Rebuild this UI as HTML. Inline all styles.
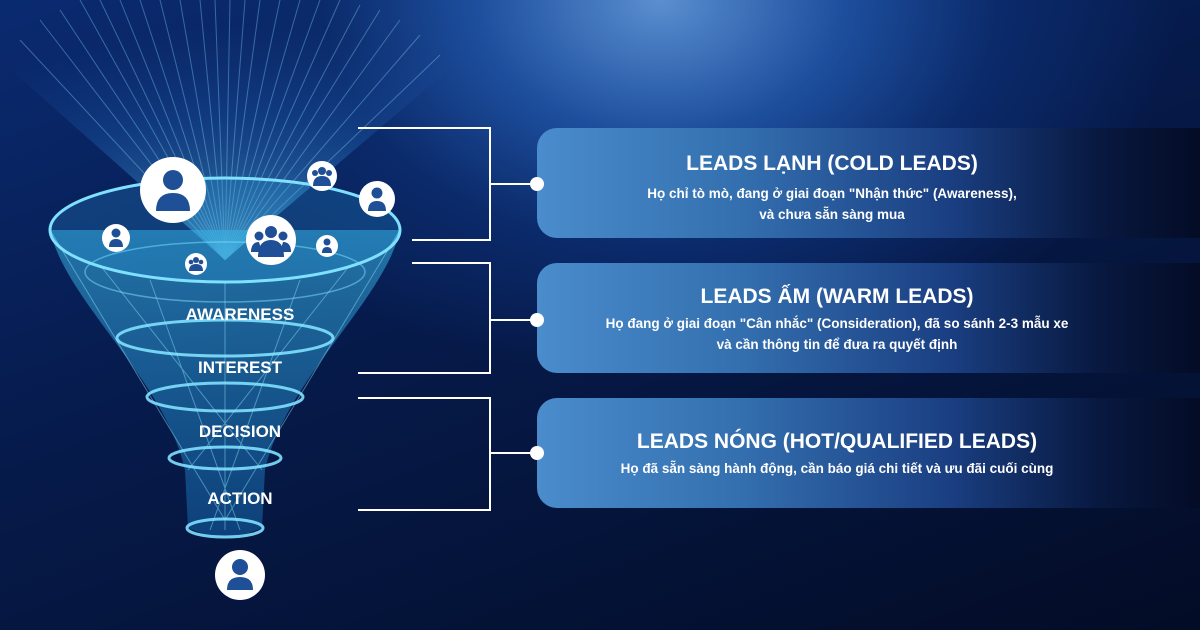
<!DOCTYPE html>
<html><head><meta charset="utf-8"><style>
html,body{margin:0;padding:0}
body{width:1200px;height:630px;overflow:hidden;position:relative;font-family:"Liberation Sans",sans-serif;
background:radial-gradient(ellipse 520px 380px at 660px 0px,#5a8fd0 0%,#1d4f9e 35%,#0b2a6a 65%,rgba(6,20,60,0) 100%),linear-gradient(160deg,#0a2a70 0%,#061a4a 45%,#030c26 100%);}
.card{position:absolute;left:537px;width:663px;height:110px;border-radius:20px 0 0 20px;
background:linear-gradient(90deg,#4a8ccc 0%,#3470b0 30%,#1a3f82 62%,#08183f 85%,#040c26 100%);color:#fff;text-align:center;}
.card .t{position:absolute;left:0;width:400px;text-align:center;font-weight:bold;font-size:21px;}
.card .d{position:absolute;left:0;width:400px;text-align:center;font-weight:bold;font-size:13.5px;line-height:21px;}
.lbl{position:absolute;color:#fff;font-weight:bold;font-size:17px;width:200px;text-align:center;left:140px;z-index:3}
svg.top{position:absolute;left:0;top:0;z-index:2}
</style></head><body>
<svg width="1200" height="630" style="position:absolute;left:0;top:0">
<defs>
<linearGradient id="fg" x1="0" y1="0" x2="0" y2="1">
<stop offset="0" stop-color="#3ec3f0" stop-opacity="0.5"/>
<stop offset="1" stop-color="#1a7fd0" stop-opacity="0.4"/>
</linearGradient>
<radialGradient id="ray" cx="0.5" cy="1" r="0.9">
<stop offset="0" stop-color="#6fe0ff" stop-opacity="0.8"/>
<stop offset="0.6" stop-color="#2a7fd8" stop-opacity="0.35"/>
<stop offset="1" stop-color="#2060c0" stop-opacity="0"/>
</radialGradient>
</defs>
<path d="M225 260 L0 60 L0 0 L460 0 L460 60 Z" fill="url(#ray)" opacity="0.7"/>
<g stroke="#8fe4ff" stroke-width="1" opacity="0.35">
<path d="M225 260 L20 40 M225 260 L40 20 M225 260 L60 10 M225 260 L80 0 M225 260 L100 0 M225 260 L120 0 M225 260 L140 0 M225 260 L160 0 M225 260 L180 0 M225 260 L200 0 M225 260 L215 0 M225 260 L230 0 M225 260 L245 0 M225 260 L260 0 M225 260 L280 0 M225 260 L300 0 M225 260 L320 0 M225 260 L340 0 M225 260 L360 5 M225 260 L380 10 M225 260 L400 20 M225 260 L420 35 M225 260 L440 55"/>
</g>
<path d="M50 230 C 65 300,165 380,185 470 L188 528 Q225 545 262 528 L265 470 C 285 380,385 300,400 230 Z" fill="url(#fg)"/>
<ellipse cx="225" cy="230" rx="175" ry="52" fill="rgba(40,150,220,0.25)" stroke="#7fe0ff" stroke-width="3"/>
<ellipse cx="225" cy="272" rx="140" ry="30" fill="none" stroke="#7fe0ff" stroke-width="1.5" opacity="0.5"/>
<g fill="none" stroke="#7fe0ff" stroke-width="3" opacity="0.9">
<ellipse cx="225" cy="338" rx="108" ry="18"/>
<ellipse cx="225" cy="397" rx="78" ry="14"/>
<ellipse cx="225" cy="458" rx="56" ry="11"/>
<ellipse cx="225" cy="528" rx="38" ry="9"/>
</g>
<g stroke="#8fe8ff" stroke-width="1" opacity="0.45">
<path d="M50 230 L225 520 M400 230 L225 520 M100 265 L262 470 M350 265 L188 470 M150 280 L240 530 M300 280 L210 530 M225 282 L225 530"/>
</g>
</svg>
<svg class="top" width="1200" height="630">
<g stroke="#fff" stroke-width="2" fill="none">
<path d="M358 128 H490 V240 H412 M490 184 H537"/>
<path d="M412 263 H490 V373 H358 M490 320 H537"/>
<path d="M358 398 H490 V510 H358 M490 453 H537"/>
</g>
<g fill="#fff"><circle cx="537" cy="184" r="7"/><circle cx="537" cy="320" r="7"/><circle cx="537" cy="453" r="7"/></g>
<circle cx="173" cy="190" r="33" fill="#fff"/><circle cx="173" cy="180" r="10" fill="#1f4f96"/><path d="M156 211 Q156 193 173 193 Q190 193 190 211 Z" fill="#1f4f96"/>
<circle cx="377" cy="199" r="18" fill="#fff"/><circle cx="377" cy="193" r="5.5" fill="#1f4f96"/><path d="M368 211 Q368 201 377 201 Q386 201 386 211 Z" fill="#1f4f96"/>
<circle cx="116" cy="238" r="14" fill="#fff"/><circle cx="116" cy="233" r="4.5" fill="#1f4f96"/><path d="M109 247 Q109 239 116 239 Q123 239 123 247 Z" fill="#1f4f96"/>
<circle cx="327" cy="246" r="11" fill="#fff"/><circle cx="327" cy="242" r="3.5" fill="#1f4f96"/><path d="M322 253 Q322 247 327 247 Q332 247 332 253 Z" fill="#1f4f96"/>
<circle cx="240" cy="575" r="25" fill="#fff"/><circle cx="240" cy="567" r="8" fill="#1f4f96"/><path d="M227 590 Q227 577 240 577 Q253 577 253 590 Z" fill="#1f4f96"/>
<circle cx="271" cy="240" r="25" fill="#fff"/><circle cx="271" cy="232" r="6" fill="#1f4f96"/><circle cx="259" cy="236" r="4.5" fill="#1f4f96"/><circle cx="283" cy="236" r="4.5" fill="#1f4f96"/><path d="M258 257 Q258 240 271 240 Q284 240 284 257 Z" fill="#1f4f96"/><path d="M251 252 Q251 242 259 242 L262 252 Z M291 252 Q291 242 283 242 L280 252 Z" fill="#1f4f96"/>
<circle cx="322" cy="176" r="15" fill="#fff"/><circle cx="322" cy="171" r="4" fill="#1f4f96"/><circle cx="315" cy="173" r="3" fill="#1f4f96"/><circle cx="329" cy="173" r="3" fill="#1f4f96"/><path d="M313 186 Q313 176 322 176 Q331 176 331 186 Z" fill="#1f4f96"/>
<circle cx="196" cy="264" r="11" fill="#fff"/><circle cx="196" cy="260" r="3" fill="#1f4f96"/><circle cx="191" cy="262" r="2.3" fill="#1f4f96"/><circle cx="201" cy="262" r="2.3" fill="#1f4f96"/><path d="M189 271 Q189 264 196 264 Q203 264 203 271 Z" fill="#1f4f96"/>
</svg>
<div class="lbl" style="top:305px">AWARENESS</div>
<div class="lbl" style="top:358px">INTEREST</div>
<div class="lbl" style="top:422px">DECISION</div>
<div class="lbl" style="top:489px">ACTION</div>
<div class="card" style="top:128px"><div class="t" style="left:45px;width:500px;top:24px">LEADS LẠNH (COLD LEADS)</div><div class="d" style="left:45px;width:500px;top:55px">Họ chỉ tò mò, đang ở giai đoạn "Nhận thức" (Awareness),<br>và chưa sẵn sàng mua</div></div>
<div class="card" style="top:263px"><div class="t" style="left:25px;width:550px;top:22px">LEADS ẤM (WARM LEADS)</div><div class="d" style="left:0;width:600px;top:50px">Họ đang ở giai đoạn "Cân nhắc" (Consideration), đã so sánh 2-3 mẫu xe<br>và cần thông tin để đưa ra quyết định</div></div>
<div class="card" style="top:398px"><div class="t" style="left:0;width:600px;top:32px">LEADS NÓNG (HOT/QUALIFIED LEADS)</div><div class="d" style="left:0;width:600px;top:60px">Họ đã sẵn sàng hành động, cần báo giá chi tiết và ưu đãi cuối cùng</div></div>
</body></html>
